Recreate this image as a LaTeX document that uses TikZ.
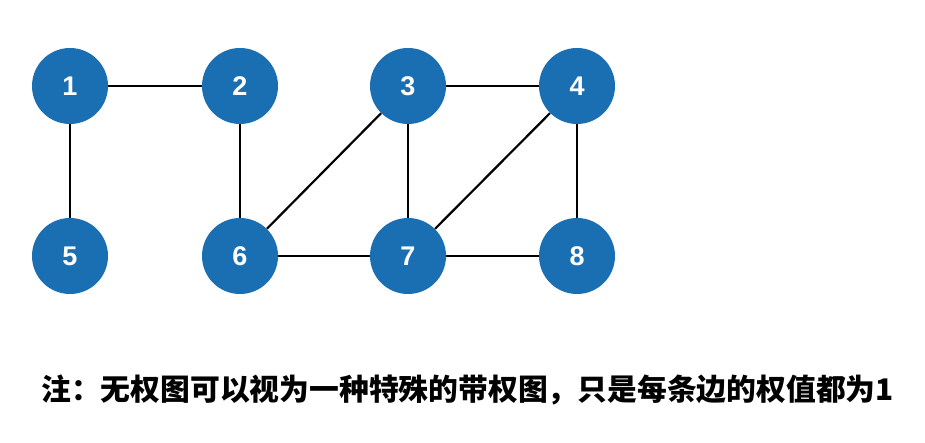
\documentclass[tikz,border=0pt]{standalone}
\usepackage{fontspec}
\setmainfont{Liberation Sans}
\newfontfamily\cjk{Noto Sans CJK SC}
\definecolor{nodeblue}{HTML}{1A6FB3}
\begin{document}
\begin{tikzpicture}[x=1pt,y=-1pt,
  vtx/.style={circle,fill=nodeblue,minimum size=76pt,inner sep=0pt,text=white,font=\fontsize{27}{30}\selectfont\bfseries},
  edge/.style={draw=black,line width=2.2pt}]
\useasboundingbox (0,0) rectangle (925,443);
\fill[white] (0,0) rectangle (925,443);
\node[vtx] (n1) at (70,86) {1};
\node[vtx] (n2) at (240,86) {2};
\node[vtx] (n3) at (408,86) {3};
\node[vtx] (n4) at (577,86) {4};
\node[vtx] (n5) at (70,256) {5};
\node[vtx] (n6) at (240,256) {6};
\node[vtx] (n7) at (408,256) {7};
\node[vtx] (n8) at (577,256) {8};
\draw[edge] (n1) -- (n2);
\draw[edge] (n1) -- (n5);
\draw[edge] (n2) -- (n6);
\draw[edge] (n3) -- (n4);
\draw[edge] (n3) -- (n6);
\draw[edge] (n3) -- (n7);
\draw[edge] (n4) -- (n7);
\draw[edge] (n4) -- (n8);
\draw[edge] (n6) -- (n7);
\draw[edge] (n7) -- (n8);
\node[font=\cjk\fontsize{29.8}{32}\selectfont\bfseries,inner sep=0pt] (note) at (467.5,390) {注：无权图可以视为一种特殊的带权图，只是每条边的权值都为1};
\end{tikzpicture}
\end{document}
